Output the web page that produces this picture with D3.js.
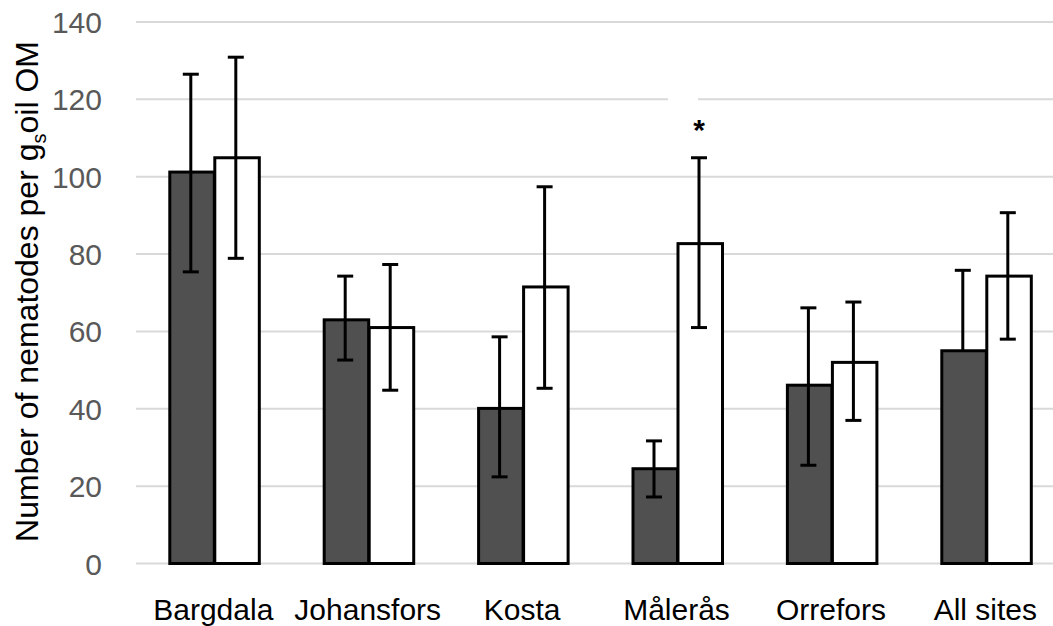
<!DOCTYPE html>
<html>
<head>
<meta charset="utf-8">
<script src="https://cdn.jsdelivr.net/npm/d3@7"></script>
<style>
  html, body { margin: 0; padding: 0; background: #fff; }
  svg { display: block; font-family: "Liberation Sans", Arial, sans-serif; }
</style>
</head>
<body>
<svg id="chart" width="1053" height="626"></svg>
<script>
// Sites along the x axis
const sites = ["Bargdala", "Johansfors", "Kosta", "Målerås", "Orrefors", "All sites"];
const series = ["dark", "light"];

// Mean number of nematodes per g soil OM
const darkValues  = [101.2, 63.0, 40.1, 24.5, 46.1, 55.0];
const lightValues = [104.9, 61.0, 71.5, 82.7, 52.0, 74.3];

// Error bar ends (upper / lower); null = not drawn
const darkUpper  = [126.5, 74.3, 58.6, 31.7, 66.1, 75.8];
const darkLower  = [75.4, 52.6, 22.4, 17.2, 25.4, null];
const lightUpper = [130.9, 77.3, 97.4, 104.9, 67.6, 90.7];
const lightLower = [78.9, 44.8, 45.3, 61.0, 37.0, 58.0];

// Significance markers per site (light series)
const markers = ["", "", "", "*", "", ""];

const yTicks = [0, 20, 40, 60, 80, 100, 120, 140];

const svg = d3.select("#chart");

const x = d3.scaleBand()
  .domain(sites)
  .range([136.1, 1062.5])
  .paddingInner(0.417)
  .paddingOuter(0.2085);

const xs = d3.scaleBand()
  .domain(series)
  .range([0, x.bandwidth()]);

const y = d3.scaleLinear()
  .domain([0, 140])
  .range([563.5, 22]);

// Horizontal gridlines
svg.append("g")
  .selectAll("line")
  .data(yTicks)
  .join("line")
  .attr("x1", 136)
  .attr("x2", 1053)
  .attr("y1", d => y(d))
  .attr("y2", d => y(d))
  .attr("stroke", "#d9d9d9")
  .attr("stroke-width", 2);

// Y axis tick labels
const yAxis = d3.axisLeft(y).tickValues(yTicks).tickSize(0).tickPadding(0);
const gy = svg.append("g")
  .attr("transform", "translate(102,0)")
  .call(yAxis);
gy.select(".domain").remove();
gy.selectAll("text")
  .attr("fill", "#595959")
  .attr("font-size", 30)
  .attr("font-family", "Liberation Sans, Arial, sans-serif")
  .attr("dy", "0.35em");

// X axis category labels
const xAxis = d3.axisBottom(x).tickSize(0).tickPadding(0);
const gx = svg.append("g")
  .attr("transform", "translate(0,598)")
  .call(xAxis);
gx.select(".domain").remove();
gx.selectAll("text")
  .attr("fill", "#000")
  .attr("font-size", 30)
  .attr("font-family", "Liberation Sans, Arial, sans-serif")
  .attr("dy", "0.72em");

// Build row data
const rows = sites.map((s, i) => ({
  site: s,
  bars: [
    { key: "dark", value: darkValues[i], hi: darkUpper[i], lo: darkLower[i] },
    { key: "light", value: lightValues[i], hi: lightUpper[i], lo: lightLower[i] }
  ],
  marker: markers[i]
}));

const fills = { dark: "#505050", light: "#ffffff" };

const groups = svg.append("g")
  .selectAll("g")
  .data(rows)
  .join("g")
  .attr("transform", d => `translate(${x(d.site)},0)`);

// Bars
groups.selectAll("rect.bar")
  .data(d => d.bars)
  .join("rect")
  .attr("class", "bar")
  .attr("x", d => xs(d.key) + 1.5)
  .attr("width", xs.bandwidth() - 0.5)
  .attr("y", d => y(d.value))
  .attr("height", d => y(0) - y(d.value))
  .attr("fill", d => fills[d.key])
  .attr("stroke", "#000")
  .attr("stroke-width", 3);

// Error bars
const capW = 8;
const eb = groups.selectAll("g.err")
  .data(d => d.bars)
  .join("g")
  .attr("class", "err")
  .attr("stroke", "#000")
  .attr("stroke-width", 3);

eb.append("line")
  .attr("x1", d => xs(d.key) + xs.bandwidth() / 2)
  .attr("x2", d => xs(d.key) + xs.bandwidth() / 2)
  .attr("y1", d => y(d.hi))
  .attr("y2", d => y(d.lo == null ? d.value : d.lo));

eb.append("line")
  .attr("x1", d => xs(d.key) + xs.bandwidth() / 2 - capW)
  .attr("x2", d => xs(d.key) + xs.bandwidth() / 2 + capW)
  .attr("y1", d => y(d.hi))
  .attr("y2", d => y(d.hi));

eb.filter(d => d.lo != null).append("line")
  .attr("x1", d => xs(d.key) + xs.bandwidth() / 2 - capW)
  .attr("x2", d => xs(d.key) + xs.bandwidth() / 2 + capW)
  .attr("y1", d => y(d.lo))
  .attr("y2", d => y(d.lo));

// Significance markers
const mk = groups.filter(d => d.marker !== "");
mk.append("rect")
  .attr("x", xs("light") + xs.bandwidth() / 2 - 31)
  .attr("y", d => y(d.bars[1].hi) - 60)
  .attr("width", 30)
  .attr("height", 4)
  .attr("fill", "#fff");
mk.append("text")
  .attr("x", xs("light") + xs.bandwidth() / 2)
  .attr("y", d => y(d.bars[1].hi) - 18)
  .attr("text-anchor", "middle")
  .attr("font-size", 30)
  .attr("font-weight", "bold")
  .attr("fill", "#000")
  .text(d => d.marker);

// Y axis title
const title = svg.append("text")
  .attr("transform", "translate(38,291.5) rotate(-90)")
  .attr("text-anchor", "middle")
  .attr("font-size", 32)
  .attr("fill", "#000");
title.append("tspan").text("Number of nematodes per g");
title.append("tspan").attr("font-size", 20).attr("dy", 8).text("s");
title.append("tspan").attr("dy", -8).text("oil OM");
</script>
</body>
</html>
